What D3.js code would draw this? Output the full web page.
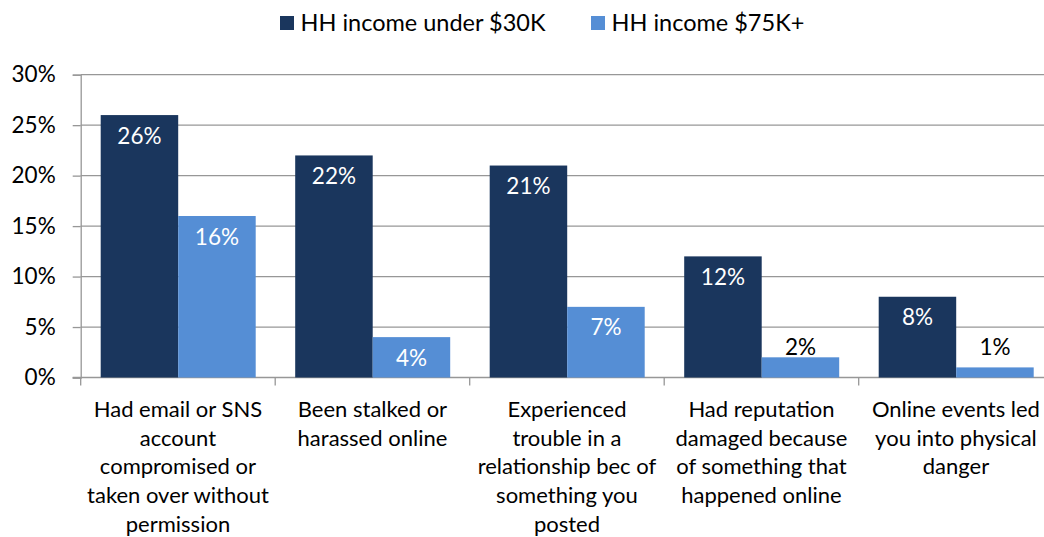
<!DOCTYPE html>
<html><head><meta charset="utf-8">
<script src="https://cdn.jsdelivr.net/npm/d3@7"></script>
<style>body{margin:0;background:#fff}svg{display:block}text{font-family:Lato,"Open Sans",sans-serif}</style>
</head><body><svg id="c" width="1044" height="537"></svg>
<script>
const categories = [
  ["Had email or SNS","account","compromised or","taken over without","permission"],
  ["Been stalked or","harassed online"],
  ["Experienced","trouble in a","relationship bec of","something you","posted"],
  ["Had reputation","damaged because","of something that","happened online"],
  ["Online events led","you into physical","danger"]
];
const seriesNames = ["HH income under $30K","HH income $75K+"];
const under30K = [26,22,21,12,8];
const over75K = [16,4,7,2,1];
const yTicks = [0,5,10,15,20,25,30];
const colors = ["#1A365D","#558ED5"];

const svg = d3.select("#c");
const pLeft = 80.7, pRight = 1053.2, pTop = 74.7, pBottom = 377.5;
const x0 = d3.scaleBand().domain(d3.range(categories.length)).range([pLeft,pRight]).paddingInner(0).paddingOuter(0);
const x1 = d3.scaleBand().domain([0,1]).range([20,194.5-19.5]);
const y = d3.scaleLinear().domain([0,30]).range([pBottom,pTop]);

// gridlines
svg.append("g").selectAll("line").data(yTicks.filter(d=>d>0)).join("line")
  .attr("x1",pLeft).attr("x2",pRight).attr("y1",d=>y(d)).attr("y2",d=>y(d))
  .attr("stroke","#979797").attr("stroke-width",1.3);

// y axis
const yAxis = d3.axisLeft(y).tickValues(yTicks).tickFormat(d=>d+"%").tickSize(8).tickPadding(17);
const gy = svg.append("g").attr("transform",`translate(${pLeft},0)`).call(yAxis);
gy.select(".domain").attr("stroke","#979797").attr("stroke-width",1.3);
gy.selectAll(".tick line").attr("stroke","#979797").attr("stroke-width",1.3);
gy.selectAll(".tick text").attr("font-size",22.5).attr("fill","#000").style("font-family","Lato,'Open Sans',sans-serif");

// x axis
const gx = svg.append("g").attr("transform",`translate(0,${pBottom})`);
gx.append("line").attr("x1",pLeft-8).attr("x2",pRight).attr("y1",0).attr("y2",0).attr("stroke","#979797").attr("stroke-width",1.3);
gx.selectAll(".ct").data(d3.range(categories.length+1)).join("line")
  .attr("x1",i=>pLeft+i*x0.bandwidth()).attr("x2",i=>pLeft+i*x0.bandwidth())
  .attr("y1",0).attr("y2",8).attr("stroke","#979797").attr("stroke-width",1.3);

// bars
const data = categories.map((c,i)=>({i, vals:[under30K[i],over75K[i]]}));
const groups = svg.append("g").selectAll("g").data(data).join("g")
  .attr("transform",d=>`translate(${x0(d.i)},0)`);
groups.selectAll("rect").data(d=>d.vals.map((v,s)=>({v,s}))).join("rect")
  .attr("x",d=>x1(d.s)).attr("width",x1.bandwidth())
  .attr("y",d=>y(d.v)).attr("height",d=>pBottom-y(d.v))
  .attr("fill",d=>colors[d.s]);
groups.selectAll("text.lbl").data(d=>d.vals.map((v,s)=>({v,s}))).join("text")
  .attr("class","lbl")
  .attr("x",d=>x1(d.s)+x1.bandwidth()/2)
  .attr("y",d=>d.v>=4 ? y(d.v)+28.5 : Math.min(y(d.v),y(2))-2)
  .attr("text-anchor","middle").attr("font-size",22.5)
  .attr("fill",d=>d.v>=4?"#fff":"#000")
  .text(d=>d.v+"%");

// category labels
const cl = svg.append("g").selectAll("text").data(categories).join("text")
  .attr("text-anchor","middle").attr("font-size",22).attr("fill","#000")
  .attr("transform",(d,i)=>`translate(${x0(i)+x0.bandwidth()/2},${417})`);
cl.selectAll("tspan").data(d=>d).join("tspan").attr("x",0).attr("dy",(d,j)=>j?28.7:0).text(d=>d);

// legend
const legX = [280,591];
const lg = svg.append("g").selectAll("g").data(seriesNames).join("g")
  .attr("transform",(d,i)=>`translate(${legX[i]},0)`);
lg.append("rect").attr("x",0).attr("y",16).attr("width",14).attr("height",14).attr("fill",(d,i)=>colors[i]);
lg.append("text").attr("x",20.5).attr("y",31).attr("font-size",23.5).attr("fill","#000").text(d=>d);
</script></body></html>
